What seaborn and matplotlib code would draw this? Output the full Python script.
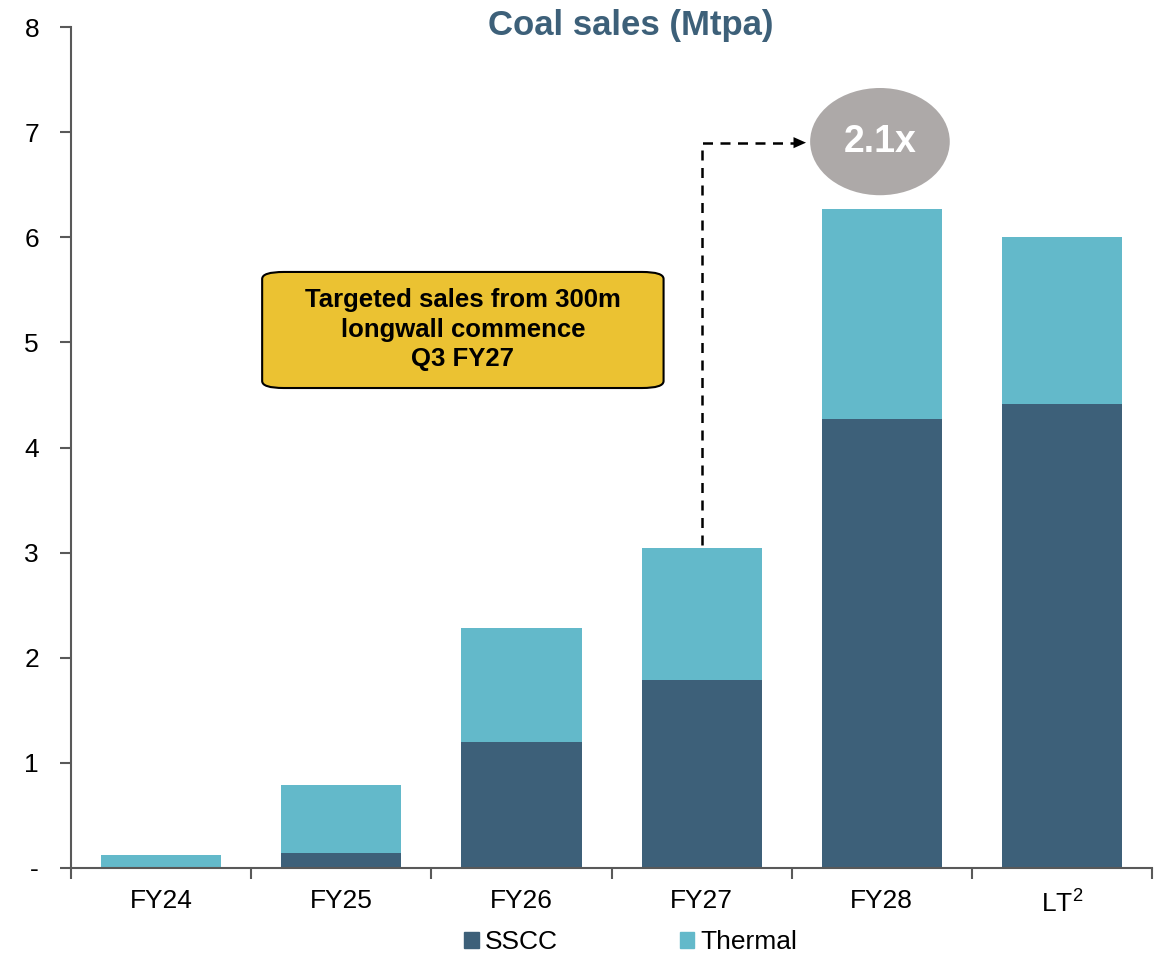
import matplotlib
matplotlib.use("Agg")
import matplotlib.pyplot as plt
import seaborn as sns
from matplotlib.patches import Ellipse, FancyBboxPatch, Patch

# --- data ---
years = ["FY24", "FY25", "FY26", "FY27", "FY28", "LT$^{2}$"]
sscc = [0.0, 0.14, 1.20, 1.79, 4.27, 4.41]
thermal = [0.12, 0.65, 1.08, 1.25, 2.00, 1.59]
total = [a + b for a, b in zip(sscc, thermal)]

sscc_col = "#3D6079"
thermal_col = "#63B9CA"
axis_col = "#595959"

sns.set_style("white")
plt.rcParams["font.family"] = ["Liberation Sans", "DejaVu Sans"]
plt.rcParams["mathtext.fontset"] = "custom"
plt.rcParams["mathtext.rm"] = "Liberation Sans"
plt.rcParams["text.color"] = "black"

fig = plt.figure(figsize=(11.62, 9.55), dpi=100)
ax = fig.add_axes([0.0611, 0.0911, 0.9303, 0.8806])

# stacked bars: total first (thermal colour), SSCC drawn over it
sns.barplot(x=years, y=total, color=thermal_col, width=0.667, ax=ax,
            saturation=1, linewidth=0)
sns.barplot(x=years, y=sscc, color=sscc_col, width=0.667, ax=ax,
            saturation=1, linewidth=0)

ax.set_xlim(-0.5, 5.5)
ax.set_ylim(0, 8)
ax.set_yticks(range(9))
ax.set_yticklabels(["-"] + [str(i) for i in range(1, 9)])
ax.tick_params(axis="y", length=8, width=1.5, color=axis_col, pad=15,
               labelsize=19, left=True, labelcolor="black")
ax.tick_params(axis="x", which="major", length=0, pad=15, labelsize=19,
               labelcolor="black")
ax.set_xticks([i - 0.5 for i in range(7)], minor=True)
ax.tick_params(axis="x", which="minor", length=8, width=1.5,
               color=axis_col, bottom=True)

for s in ["top", "right"]:
    ax.spines[s].set_visible(False)
for s in ["left", "bottom"]:
    ax.spines[s].set_color(axis_col)
    ax.spines[s].set_linewidth(1.5)

fig.text(0.5427, 0.9728, "Coal sales (Mtpa)", ha="center", va="center",
         fontsize=25, fontweight="bold", color=sscc_col)

# dashed arrow from FY27 to the multiplier bubble
ax.plot([3.0, 3.0, 3.55], [3.07, 6.9, 6.9], color="black", ls=(0, (4, 3)),
        lw=1.8)
ax.annotate("", xy=(3.595, 6.9), xytext=(3.5, 6.9),
            arrowprops=dict(arrowstyle="-|>,head_length=0.9,head_width=0.4",
                            color="black", lw=0))

ax.add_patch(Ellipse((3.99, 6.91), 0.775, 1.02, facecolor="#ADA9A8",
                     edgecolor="none", zorder=5))
ax.text(3.99, 6.91, "2.1x", ha="center", va="center", color="white",
        fontsize=27, fontweight="bold", zorder=6)

box = FancyBboxPatch((0.561, 4.566), 2.228, 1.104,
                     boxstyle="round,pad=0,rounding_size=0.12",
                     mutation_aspect=0.55,
                     facecolor="#EBC232", edgecolor="black", lw=1.5,
                     zorder=5)
ax.add_patch(box)
ax.text(1.675, 5.12, "Targeted sales from 300m\nlongwall commence\nQ3 FY27",
        ha="center", va="center", fontsize=18.5, fontweight="bold",
        linespacing=1.3, color="black", zorder=6)

handles = [Patch(color=sscc_col, label="SSCC"),
           Patch(color=thermal_col, label="Thermal")]
ax.legend(handles=handles, loc="center", bbox_to_anchor=(0.518, -0.088),
          ncol=2, frameon=False, fontsize=19, handlelength=0.55,
          handleheight=0.55, handletextpad=0.25, columnspacing=4.6,
          labelcolor="black")

fig.savefig("out.png", dpi=100)
